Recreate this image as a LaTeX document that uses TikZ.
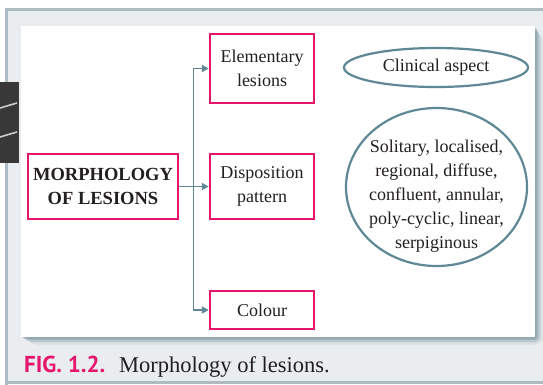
\documentclass[tikz,border=0pt]{standalone}
\usepackage{fontspec}
\usetikzlibrary{shapes.geometric,arrows.meta}
\setmainfont{Liberation Serif}
\newfontfamily\capfont{PT Sans}
\definecolor{pinkb}{HTML}{E5166C}
\definecolor{teal}{HTML}{5E8896}
\definecolor{framebg}{HTML}{E9EDF0}
\definecolor{frameln}{HTML}{AEBBC3}
\definecolor{shadowc}{HTML}{7C96A1}
\definecolor{txt}{HTML}{231F20}
\begin{document}
\begin{tikzpicture}[x=1pt,y=-1pt,
  pbox/.style={draw=pinkb,line width=2.4pt,fill=white,inner sep=0pt,align=center,text=txt,font=\fontsize{18}{24}\selectfont},
  tbox/.style={draw=teal,line width=2.2pt,fill=white,ellipse,inner sep=0pt,align=center,text=txt,font=\fontsize{18}{24}\selectfont},
  conn/.style={draw=teal,line width=1.8pt},
  tip/.style={-{Triangle[length=7pt,width=7pt]}}]
\useasboundingbox (0,0) rectangle (543,384);
% outer frame
\fill[framebg] (5,8) rectangle (550,383);
\draw[frameln,line width=3pt] (6,400) -- (6,9.5) -- (560,9.5);
\draw[frameln,line width=2.5pt] (6,382.5) -- (560,382.5);
% shadow of panel
\foreach \i/\o in {8/0.10,6/0.15,4.5/0.25,3/0.35,1.5/0.45}{
  \fill[shadowc,opacity=\o,rounded corners=\i] (21+\i,26+\i) rectangle (535+\i,337+\i);
}
\fill[white] (21,26) rectangle (535,337);
% binding
\fill[black!78] (0,82) rectangle (19,163);
\draw[white!80!black,line width=1.6pt] (0,108) -- (17,103);
\draw[white!80!black,line width=1.6pt] (0,137) -- (17,132);
% nodes
\node[pbox,minimum width=150pt,minimum height=65pt,font=\bfseries\fontsize{18.5}{24}\selectfont] (morph) at (103,186.5) {MORPHOLOGY\\OF LESIONS};
\node[pbox,minimum width=104pt,minimum height=69pt] (elem) at (262,68.5) {Elementary\\lesions};
\node[pbox,minimum width=104pt,minimum height=65pt] (disp) at (262,186.5) {Disposition\\pattern};
\node[pbox,minimum width=104pt,minimum height=38pt] (col) at (262,310) {Colour};
\node[tbox,minimum width=184pt,minimum height=39pt] (clin) at (436,67.5) {Clinical aspect};
\node[tbox,minimum width=181pt,minimum height=158pt] (desc) at (436.5,187) {};
\node[align=center,inner sep=0pt,text=txt,font=\fontsize{18}{24}\selectfont] (desctxt) at (436.5,196) {Solitary, localised,\\regional, diffuse,\\confluent, annular,\\poly-cyclic, linear,\\serpiginous};
% connectors
\coordinate (jn) at (193.5,186.5);
\draw[conn,tip] (morph.east) -- (disp.west);
\draw[conn,tip] (jn) |- (elem.west);
\draw[conn,tip] (jn) |- (col.west);
% caption
\node[anchor=base west,inner sep=0pt,text=pinkb,font=\capfont\bfseries\fontsize{23}{26}\selectfont] (figl) at (24,372) {FIG. 1.2.};
\node[anchor=base west,inner sep=0pt,text=txt,font=\fontsize{22.5}{26}\selectfont] (figt) at (119,372) {Morphology of lesions.};
\end{tikzpicture}
\end{document}
